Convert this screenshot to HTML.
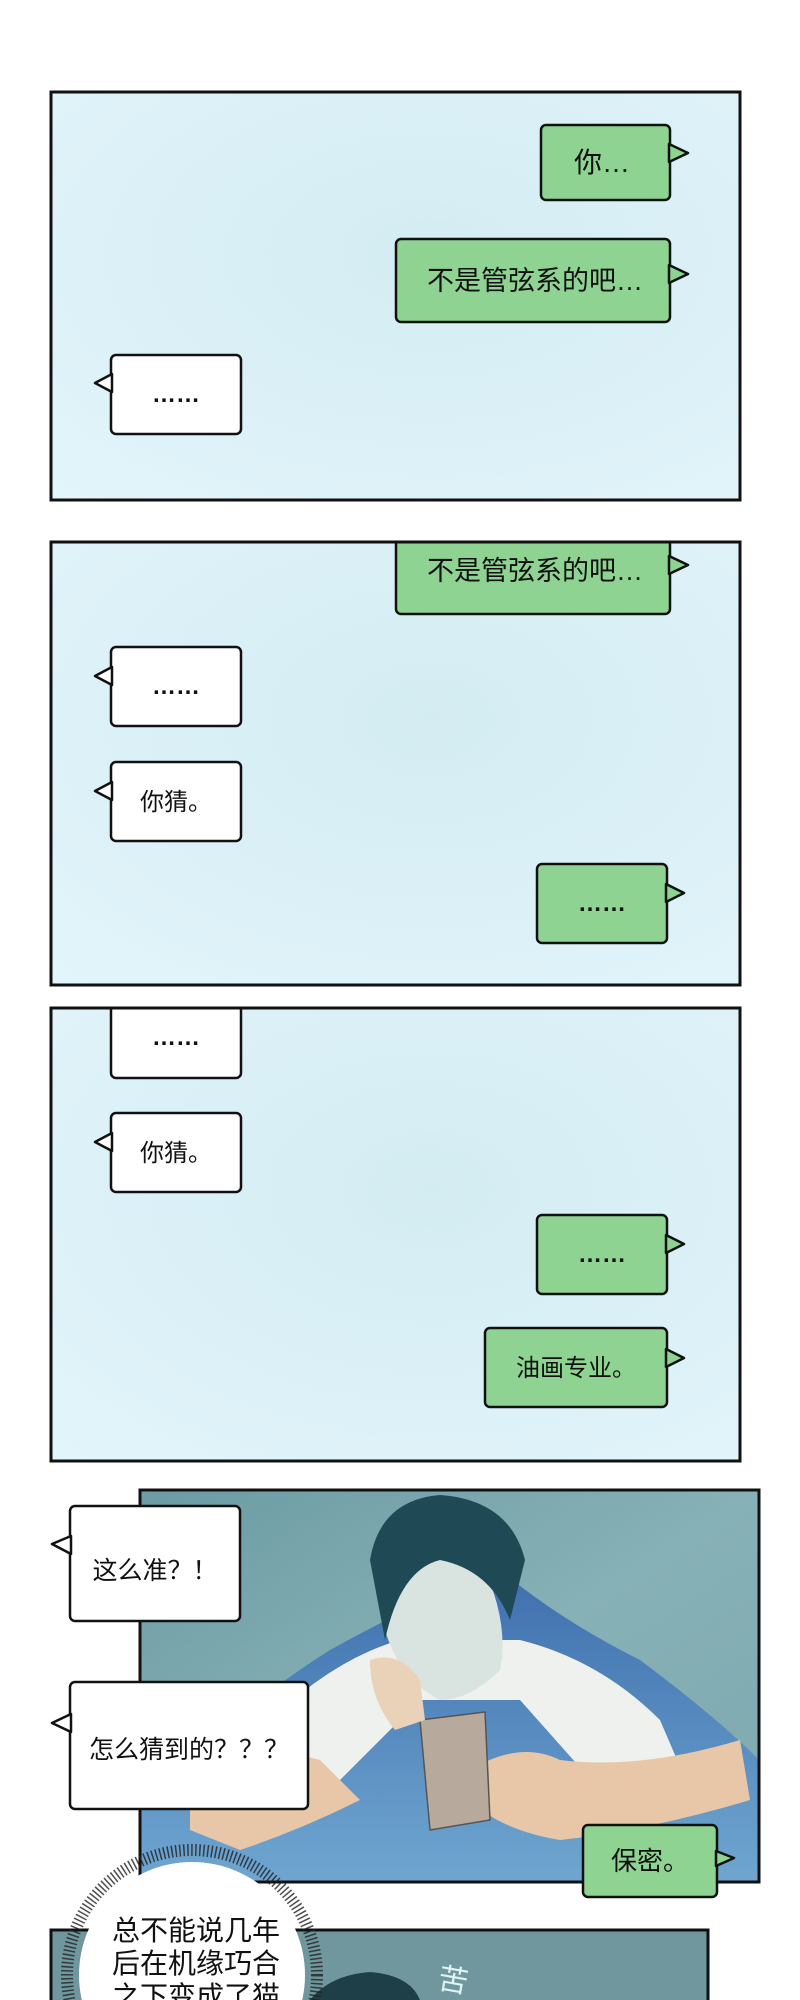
<!DOCTYPE html>
<html><head><meta charset="utf-8"><style>
html,body{margin:0;padding:0;background:#fff;width:800px;height:2000px;overflow:hidden}
svg{display:block}
text{font-family:"Liberation Sans","Noto Sans CJK SC",sans-serif;fill:#111}
</style></head><body>
<svg width="800" height="2000" viewBox="0 0 800 2000" xmlns="http://www.w3.org/2000/svg">
<defs>
<radialGradient id="bg" cx="0.55" cy="0.4" r="0.8">
<stop offset="0" stop-color="#d3ecf2"/><stop offset="1" stop-color="#e2f5fb"/>
</radialGradient>
<linearGradient id="teal" x1="0" y1="0" x2="1" y2="1">
<stop offset="0" stop-color="#6c9ba3"/><stop offset="0.5" stop-color="#86b1b6"/><stop offset="1" stop-color="#7ea8b0"/>
</linearGradient>
<linearGradient id="blanket" x1="0" y1="0" x2="0" y2="1">
<stop offset="0" stop-color="#3f6fae"/><stop offset="1" stop-color="#6fa6d0"/>
</linearGradient>
<clipPath id="c2"><rect x="51" y="542" width="689" height="443"/></clipPath>
<clipPath id="c3"><rect x="51" y="1008" width="689" height="453"/></clipPath>
<clipPath id="c4"><rect x="140" y="1490" width="619" height="392"/></clipPath>
</defs>

<!-- Panel 1 -->
<rect x="51" y="92" width="689" height="408" fill="url(#bg)" stroke="#111" stroke-width="3"/>
<g stroke="#111" stroke-width="2.5" stroke-linejoin="round">
<rect x="541" y="125" width="129" height="75" rx="5" fill="#8fd392"/>
<polygon points="669,144 688,153 669,162" fill="#8fd392"/>
<rect x="396" y="239" width="274" height="83" rx="5" fill="#8fd392"/>
<polygon points="669,265 688,274 669,283" fill="#8fd392"/>
<rect x="111" y="355" width="130" height="79" rx="5" fill="#fff"/>
<polygon points="112,374 95,383 112,392" fill="#fff"/>
</g>
<g text-anchor="middle">
<text x="602" y="172" font-size="28">你…</text>
<text x="535" y="290" font-size="27">不是管弦系的吧…</text>
<text x="176" y="402" font-size="24" font-weight="bold">……</text>
</g>

<!-- Panel 2 -->
<rect x="51" y="542" width="689" height="443" fill="url(#bg)" stroke="#111" stroke-width="3"/>
<g clip-path="url(#c2)" stroke="#111" stroke-width="2.5" stroke-linejoin="round">
<rect x="396" y="530" width="274" height="84" rx="5" fill="#8fd392"/>
<polygon points="669,556 688,565 669,574" fill="#8fd392"/>
</g>
<rect x="51" y="542" width="689" height="443" fill="none" stroke="#111" stroke-width="3"/>
<g stroke="#111" stroke-width="2.5" stroke-linejoin="round">
<rect x="111" y="647" width="130" height="79" rx="5" fill="#fff"/>
<polygon points="112,667 95,676 112,685" fill="#fff"/>
<rect x="111" y="762" width="130" height="79" rx="5" fill="#fff"/>
<polygon points="112,782 95,791 112,800" fill="#fff"/>
<rect x="537" y="864" width="130" height="79" rx="5" fill="#8fd392"/>
<polygon points="666,884 684,893 666,902" fill="#8fd392"/>
</g>
<g text-anchor="middle">
<text x="535" y="580" font-size="27">不是管弦系的吧…</text>
<text x="176" y="694" font-size="24" font-weight="bold">……</text>
<text x="176" y="810" font-size="24">你猜。</text>
<text x="602" y="911" font-size="24" font-weight="bold">……</text>
</g>

<!-- Panel 3 -->
<rect x="51" y="1008" width="689" height="453" fill="url(#bg)" stroke="#111" stroke-width="3"/>
<g clip-path="url(#c3)" stroke="#111" stroke-width="2.5" stroke-linejoin="round">
<rect x="111" y="995" width="130" height="83" rx="5" fill="#fff"/>
</g>
<rect x="51" y="1008" width="689" height="453" fill="none" stroke="#111" stroke-width="3"/>
<g stroke="#111" stroke-width="2.5" stroke-linejoin="round">
<rect x="111" y="1113" width="130" height="79" rx="5" fill="#fff"/>
<polygon points="112,1133 95,1142 112,1151" fill="#fff"/>
<rect x="537" y="1215" width="130" height="79" rx="5" fill="#8fd392"/>
<polygon points="666,1235 684,1244 666,1253" fill="#8fd392"/>
<rect x="485" y="1328" width="182" height="79" rx="5" fill="#8fd392"/>
<polygon points="666,1349 684,1358 666,1367" fill="#8fd392"/>
</g>
<g text-anchor="middle">
<text x="176" y="1045" font-size="24" font-weight="bold">……</text>
<text x="176" y="1161" font-size="24">你猜。</text>
<text x="602" y="1262" font-size="24" font-weight="bold">……</text>
<text x="576" y="1376" font-size="24">油画专业。</text>
</g>

<!-- Panel 4 illustration -->
<rect x="140" y="1490" width="619" height="392" fill="url(#teal)"/>
<g clip-path="url(#c4)">
<path d="M140,1800 Q250,1700 330,1650 Q420,1600 500,1570 Q560,1620 640,1660 Q720,1720 759,1760 L759,1882 L140,1882 Z" fill="url(#blanket)"/>
<path d="M260,1730 Q330,1660 400,1640 L520,1640 Q600,1660 660,1720 L690,1790 L600,1790 L520,1700 L420,1700 L330,1790 L250,1800 Z" fill="#eef1ee"/>
<path d="M190,1790 Q250,1740 320,1760 L360,1800 Q300,1830 240,1850 L190,1830 Z" fill="#e8c7a8"/>
<path d="M470,1770 Q520,1740 560,1760 Q640,1770 740,1740 L750,1800 Q650,1830 560,1840 Q500,1830 470,1800 Z" fill="#e8c7a8"/>
<path d="M385,1570 Q430,1540 480,1560 Q510,1620 500,1670 Q470,1700 440,1700 Q400,1680 385,1630 Z" fill="#d9e3df"/>
<path d="M370,1560 Q380,1500 440,1495 Q510,1500 525,1560 L510,1620 Q490,1570 440,1560 Q400,1570 385,1640 Z" fill="#1f4a55"/>
<path d="M420,1720 L485,1712 L490,1820 L430,1830 Z" fill="#b7aa9c" stroke="#555" stroke-width="1.5"/>
<path d="M370,1660 Q400,1650 420,1680 L425,1720 L395,1730 Q370,1700 370,1660 Z" fill="#ead2b8"/>
</g>
<rect x="140" y="1490" width="619" height="392" fill="none" stroke="#111" stroke-width="3"/>
<g stroke="#111" stroke-width="2.5" stroke-linejoin="round">
<rect x="70" y="1506" width="170" height="115" rx="5" fill="#fff"/>
<polygon points="71,1536 52,1544 71,1554" fill="#fff"/>
<rect x="70" y="1682" width="238" height="127" rx="5" fill="#fff"/>
<polygon points="71,1714 52,1723 71,1732" fill="#fff"/>
<rect x="583" y="1825" width="134" height="72" rx="5" fill="#8fd392"/>
<polygon points="716,1851 734,1858 716,1866" fill="#8fd392"/>
</g>
<g text-anchor="middle">
<text x="155" y="1579" font-size="25">这么准？！</text>
<text x="189" y="1758" font-size="25">怎么猜到的？？？</text>
<text x="650" y="1870" font-size="26">保密。</text>
</g>

<!-- Panel 5 -->
<rect x="51" y="1930" width="657" height="80" fill="#6f979d" stroke="#111" stroke-width="3"/>
<path d="M310,2000 Q330,1975 370,1972 Q410,1975 420,2000 Z" fill="#1e3f47"/>
<text x="440" y="1990" font-size="30" style="fill:#dff3f5" transform="rotate(10 450 1970)">苦</text>
<circle cx="192" cy="1975" r="125" fill="none" stroke="#222" stroke-width="12" stroke-dasharray="1.5 2.5" opacity="0.8"/>
<circle cx="192" cy="1975" r="113" fill="#fff"/>
<text x="112" y="1940" font-size="28">总不能说几年</text>
<text x="112" y="1973" font-size="28">后在机缘巧合</text>
<text x="112" y="2006" font-size="28">之下变成了猫</text>
</svg>
</body></html>
